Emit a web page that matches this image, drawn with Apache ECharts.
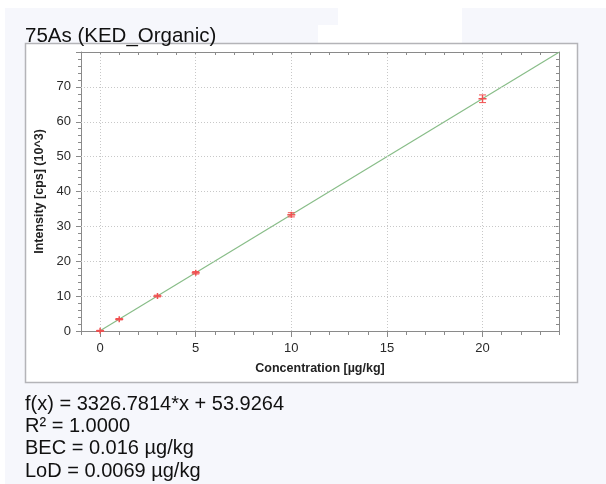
<!DOCTYPE html>
<html>
<head>
<meta charset="utf-8">
<script src="https://cdn.jsdelivr.net/npm/echarts@6/dist/echarts.min.js"></script>
<style>
html,body{margin:0;padding:0;background:#fff;}
#c{width:606px;height:484px;}
</style>
</head>
<body>
<div id="c"></div>
<script>
// ---- data ----
const titleText = '75As (KED_Organic)';
const concentrations = [0, 1, 3, 5, 10, 20];
const intensities = [0.05, 3.38, 10.03, 16.69, 33.32, 66.59];
const errors = [0.15, 0.2, 0.25, 0.35, 0.6, 1.1];
const fitX = [0, 24];
const fitY = [0.05, 79.9];
const xTickLabels = [0, 5, 10, 15, 20];
const yGridValues = [10, 20, 30, 40, 50, 60, 70];
const infoLines = [
  'f(x) = 3326.7814*x + 53.9264',
  'R\u00b2 = 1.0000',
  'BEC = 0.016 \u00b5g/kg',
  'LoD = 0.0069 \u00b5g/kg'
];

const chart = echarts.init(document.getElementById('c'), null, {renderer: 'canvas'});
const font = '"Liberation Sans", Arial, sans-serif';
const axisGray = '#8a8a8a';
const labelColor = '#2a2a2a';

const gridLeft = 81, gridTop = 52, gridRight = 47, gridBottom = 153;

const baseAxis = {
  type: 'value',
  axisLine: {show: true, onZero: false, lineStyle: {color: axisGray, width: 1}},
  splitLine: {show: false},
  axisLabel: {show: false},
};

const option = {
  backgroundColor: '#ffffff',
  animation: false,
  textStyle: {fontFamily: font},
  graphic: [
    {type: 'rect', z: -100, shape: {x: 5, y: 8, width: 601, height: 476}, style: {fill: '#f6f7fc'}},
    {type: 'rect', z: -99, shape: {x: 338, y: 8, width: 124, height: 35}, style: {fill: '#ffffff'}},
    {type: 'rect', z: -99, shape: {x: 318, y: 25, width: 20, height: 18}, style: {fill: '#ffffff'}},
    {type: 'rect', z: -98, shape: {x: 25.5, y: 43.5, width: 552, height: 339}, style: {fill: '#ffffff', stroke: '#b4b4b8', lineWidth: 1.5}},
    {type: 'text', z: 10, left: 25, top: 26, style: {text: titleText, font: '20.5px ' + font, fill: '#111'}},
    {type: 'text', z: 10, left: 25, top: 393, style: {text: infoLines.join('\n'), font: '20px ' + font, lineHeight: 22.3, fill: '#111'}}
  ],
  grid: {left: gridLeft, top: gridTop, right: gridRight, bottom: gridBottom, containLabel: false},
  xAxis: [
    Object.assign({}, baseAxis, {
      min: -1, max: 24, interval: 1, position: 'bottom',
      name: 'Concentration [\u00b5g/kg]', nameLocation: 'middle', nameGap: 31,
      nameTextStyle: {fontFamily: font, fontWeight: 'bold', fontSize: 12.5, color: '#222'},
      axisTick: {show: true, inside: false, length: 4, lineStyle: {color: axisGray}},
      axisLabel: {show: true, customValues: xTickLabels, margin: 11, fontSize: 13, color: labelColor, fontFamily: font}
    }),
    Object.assign({}, baseAxis, {
      min: -1, max: 24, interval: 1, position: 'top',
      axisTick: {show: true, inside: true, length: 3, lineStyle: {color: axisGray}}
    }),
    Object.assign({}, baseAxis, {
      min: -1, max: 24, position: 'top',
      axisLine: {show: false},
      axisTick: {show: true, inside: true, length: 6, customValues: xTickLabels, lineStyle: {color: axisGray}}
    })
  ],
  yAxis: [
    Object.assign({}, baseAxis, {
      min: 0, max: 80, interval: 10, position: 'left',
      name: 'Intensity [cps] (10^3)', nameLocation: 'middle', nameGap: 33, nameRotate: 90,
      nameTextStyle: {fontFamily: font, fontWeight: 'bold', fontSize: 12.5, color: '#222'},
      axisTick: {show: true, inside: false, length: 5, lineStyle: {color: axisGray}},
      minorTick: {show: true, splitNumber: 5, length: 3, lineStyle: {color: axisGray}},
      axisLabel: {show: true, margin: 10, fontSize: 13, color: labelColor, fontFamily: font,
        formatter: v => (v >= 80 ? '' : String(v))}
    }),
    Object.assign({}, baseAxis, {
      min: 0, max: 80, interval: 10, position: 'right',
      axisTick: {show: true, inside: true, length: 5, lineStyle: {color: axisGray}},
      minorTick: {show: true, splitNumber: 5, length: 3, lineStyle: {color: axisGray}}
    })
  ],
  series: [
    {
      type: 'line', xAxisIndex: 0, yAxisIndex: 0, silent: true,
      data: [],
      markLine: {
        silent: true, symbol: ['none', 'none'], label: {show: false},
        lineStyle: {type: [1, 2], color: '#c8c8c8', width: 1},
        data: xTickLabels.map(v => ({xAxis: v})).concat(yGridValues.map(v => ({yAxis: v})))
      },
      z: 1
    },
    {
      type: 'line', xAxisIndex: 0, yAxisIndex: 0, silent: true,
      data: fitX.map((x, i) => [x, fitY[i]]),
      symbol: 'none',
      lineStyle: {color: '#88bd88', width: 1.2},
      z: 3
    },
    {
      type: 'custom', xAxisIndex: 0, yAxisIndex: 0, silent: true, z: 5,
      data: concentrations.map((x, i) => [x, intensities[i], errors[i]]),
      renderItem: function (params, api) {
        const x = api.value(0), y = api.value(1), e = api.value(2);
        const c = api.coord([x, y]);
        const hi = api.coord([x, y + e]);
        const lo = api.coord([x, y - e]);
        const st = {stroke: '#f05050', lineWidth: 1};
        const cap = 3.5;
        return {
          type: 'group',
          children: [
            {type: 'line', shape: {x1: c[0], y1: hi[1], x2: c[0], y2: lo[1]}, style: st},
            {type: 'line', shape: {x1: c[0] - cap, y1: hi[1], x2: c[0] + cap, y2: hi[1]}, style: st},
            {type: 'line', shape: {x1: c[0] - cap, y1: lo[1], x2: c[0] + cap, y2: lo[1]}, style: st},
            {type: 'line', shape: {x1: c[0] - 4, y1: c[1], x2: c[0] + 4, y2: c[1]}, style: {stroke: '#f05050', lineWidth: 1.5}},
            {type: 'line', shape: {x1: c[0], y1: c[1] - 3, x2: c[0], y2: c[1] + 3}, style: {stroke: '#f05050', lineWidth: 1.5}}
          ]
        };
      }
    }
  ]
};
chart.setOption(option);
</script>
</body>
</html>
